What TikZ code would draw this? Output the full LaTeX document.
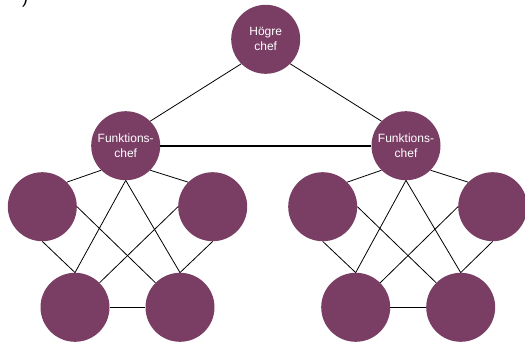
\documentclass[tikz,border=0pt]{standalone}
\usepackage{fontspec}
\setmainfont{Liberation Sans}
\definecolor{chefpurple}{HTML}{7A3E65}
\begin{document}
\begin{tikzpicture}[x=1pt, y=-1pt,
  person/.style={circle, fill=chefpurple, minimum size=69pt, inner sep=0pt, text=white, font=\fontsize{12}{15}\selectfont, align=center},
  link/.style={line width=0.8pt}]
  \useasboundingbox (0,0) rectangle (525,345);
  % Nodes
  \node (lbl) [anchor=base, font=\fontsize{18}{18}\selectfont] at (25, 4) {)};
  \node (top) [person] at (265.7, 39.3) {Högre\\chef};
  \node (fl) [person] at (125.7, 145.7) {Funktions-\\chef};
  \node (fr) [person] at (406, 145.7) {Funktions-\\chef};
  \node (lul) [person] at (42.3, 206.7) {};
  \node (lur) [person] at (212.7, 206.7) {};
  \node (lbl1) [person] at (75, 307.3) {};
  \node (lbr) [person] at (180, 307.3) {};
  \node (rul) [person] at (322.7, 206.7) {};
  \node (rur) [person] at (492.7, 206.7) {};
  \node (rbl) [person] at (355.7, 307.3) {};
  \node (rbr) [person] at (460.7, 307.3) {};
  % Lines
  \draw[link] (top.south west) -- (fl.north east);
  \draw[link] (top.south east) -- (fr.north west);
  \draw[line width=1.6pt] (fl.east) -- (fr.west);
  % left group
  \draw[link] (fl.south west) -- (lul.north east);
  \draw[link] (fl.south east) -- (lur.north west);
  \draw[link] (fl.south) -- (lbl1.north);
  \draw[link] (fl.south) -- (lbr.north);
  \draw[link] (lul.south) -- (lbl1.north);
  \draw[link] (lul.east) -- (lbr.north west);
  \draw[link] (lur.west) -- (lbl1.north east);
  \draw[link] (lur.south) -- (lbr.north);
  \draw[link] (lbl1.east) -- (lbr.west);
  % right group
  \draw[link] (fr.south west) -- (rul.north east);
  \draw[link] (fr.south east) -- (rur.north west);
  \draw[link] (fr.south) -- (rbl.north);
  \draw[link] (fr.south) -- (rbr.north);
  \draw[link] (rul.south) -- (rbl.north);
  \draw[link] (rul.east) -- (rbr.north west);
  \draw[link] (rur.west) -- (rbl.north east);
  \draw[link] (rur.south) -- (rbr.north);
  \draw[link] (rbl.east) -- (rbr.west);
\end{tikzpicture}
\end{document}
